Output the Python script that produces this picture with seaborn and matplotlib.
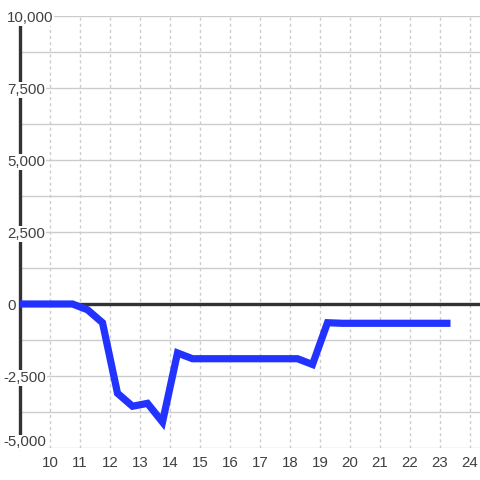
import numpy as np
import pandas as pd
import matplotlib
matplotlib.use("Agg")
import matplotlib.pyplot as plt
import matplotlib.transforms as mtransforms
import seaborn as sns

# data
hours = [8.75, 9.25, 9.75, 10.25, 10.75, 11.25, 11.75, 12.25, 12.75, 13.25, 13.75,
         14.25, 14.75, 15.25, 15.75, 16.25, 16.75, 17.25, 17.75, 18.25, 18.75,
         19.25, 19.75, 20.25, 20.75, 21.25, 21.75, 22.25, 22.75, 23.35]
values = [0, 0, 0, 0, 0, -200, -650, -3100, -3550, -3450, -4100,
          -1700, -1900, -1900, -1900, -1900, -1900, -1900, -1900, -1900, -2100,
          -650, -670, -670, -670, -670, -670, -670, -670, -670]
x_ticks = list(range(10, 25))
y_ticks = [-5000, -2500, 0, 2500, 5000, 7500, 10000]
y_tick_labels = ["-5,000", "-2,500", "0", "2,500", "5,000", "7,500", "10,000"]
y_grid = [-5000, -3750, -2500, -1250, 0, 1250, 2500, 3750, 5000, 6250, 7500, 8750, 10000]

df = pd.DataFrame({"hour": hours, "value": values})

sns.set_theme(style="white")
plt.rcParams["font.family"] = ["Liberation Sans", "DejaVu Sans"]

fig = plt.figure(figsize=(4.8, 4.8), dpi=100)
fig.patch.set_facecolor("white")
ax = fig.add_axes([20 / 480, 32 / 480, 460 / 480, 432 / 480])
ax.set_facecolor("white")

ax.set_xlim(9, 24 + 1 / 3)
ax.set_ylim(-5000, 10000)

# grid
for g in y_grid:
    ax.axhline(g, color="#cccccc", lw=1.0, zorder=1)
for t in x_ticks:
    ax.axvline(t, color="#cccccc", lw=1.0, ls=(0, (2.2, 2.2)), zorder=1)

# zero line and left spine
ax.axhline(0, color="#333333", lw=2.4, zorder=3)
ax.axvline(9, color="#333333", lw=2.4, zorder=3, clip_on=False)

sns.lineplot(data=df, x="hour", y="value", ax=ax, color="#2233ff", lw=5.2,
             zorder=4, solid_capstyle="butt", solid_joinstyle="miter")

for s in ax.spines.values():
    s.set_visible(False)

ax.set_xticks(x_ticks)
ax.set_xticklabels([str(t) for t in x_ticks], fontsize=10.8, color="#404040")
ax.tick_params(axis="x", length=0, pad=5.5)
ax.set_yticks([])
ax.set_xlabel("")
ax.set_ylabel("")

xfrac = (7 - 20) / 460
shift = mtransforms.ScaledTranslation(0, -1.5 / 72, fig.dpi_scale_trans)
up = mtransforms.ScaledTranslation(0, 4.0 / 72, fig.dpi_scale_trans)
for v, lab in zip(y_ticks, y_tick_labels):
    x0 = xfrac if not lab.startswith("-") else (3 - 20) / 460
    tr = ax.get_yaxis_transform() + (up if v == y_ticks[0] else shift)
    ax.text(x0, v, lab, transform=tr, ha="left", va="center",
            fontsize=10.8, color="#404040", zorder=6, clip_on=False,
            bbox=dict(facecolor="white", edgecolor="none", pad=0.5))

fig.savefig("out.png", dpi=100, facecolor="white")
